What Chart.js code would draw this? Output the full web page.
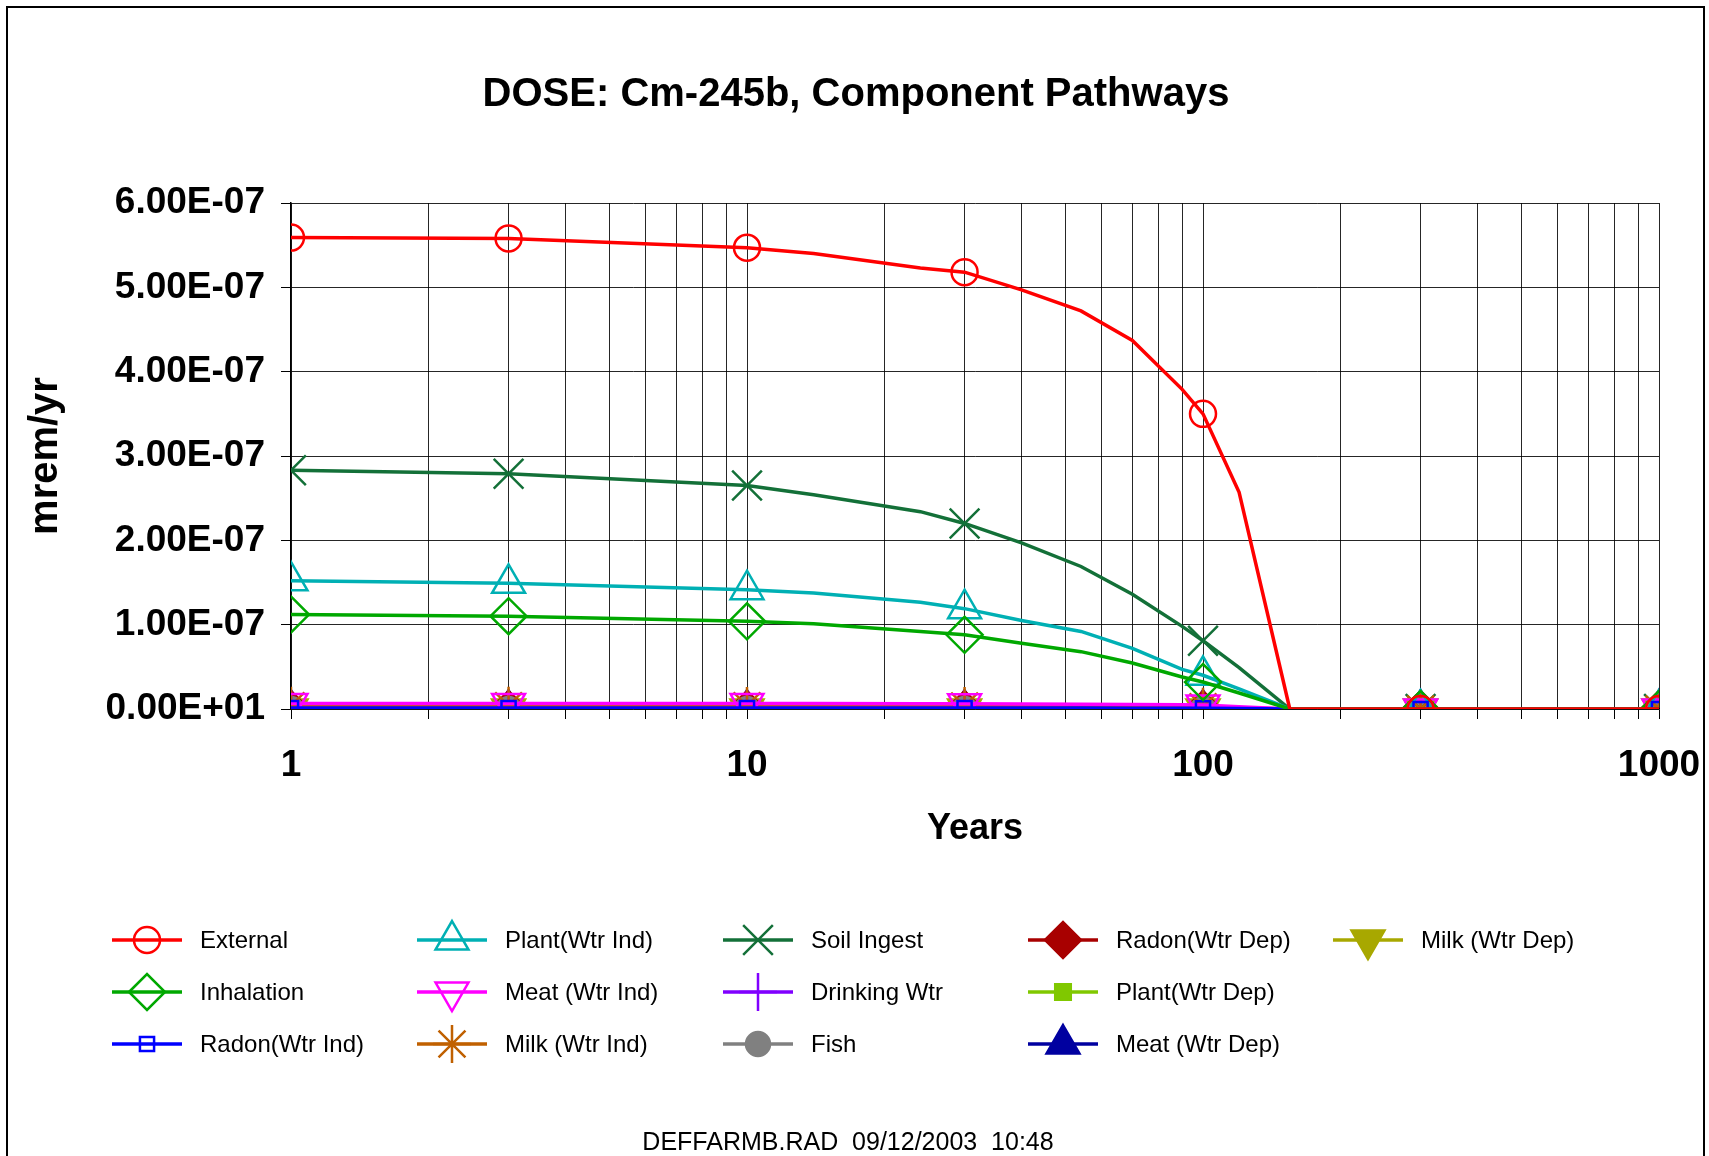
<!DOCTYPE html>
<html lang="en">
<head>
    <meta charset="UTF-8">
    <title>DOSE: Cm-245b, Component Pathways</title>
    <script src="https://cdn.jsdelivr.net/npm/chart.js"></script>
    <style>
        body { margin: 0; background: #fff; overflow: hidden; }
        canvas { display: block; }
    </style>
</head>
<body>
    <canvas id="chart" width="1709" height="1156"></canvas>

    <script>
        const years = [1, 3, 10, 14, 24, 30, 40, 54, 70, 90, 100, 120, 155, 300, 1000];
        const markerYears = [1, 3, 10, 30, 100, 300, 1000];

        // dose values, mrem/yr
        const external     = [5.59e-7, 5.58e-7, 5.47e-7, 5.40e-7, 5.23e-7, 5.18e-7, 4.97e-7, 4.72e-7, 4.37e-7, 3.79e-7, 3.50e-7, 2.57e-7, 0, 0, 0];
        const inhalation   = [1.12e-7, 1.10e-7, 1.04e-7, 1.01e-7, 0.92e-7, 0.88e-7, 0.78e-7, 0.68e-7, 0.545e-7, 0.38e-7, 0.32e-7, 0.19e-7, 0, 0, 0];
        const radonWtrInd  = [1.2e-9, 1.2e-9, 1.2e-9, 1.2e-9, 1.2e-9, 1.2e-9, 1.1e-9, 1.1e-9, 1.0e-9, 0.9e-9, 0.9e-9, 0.5e-9, 0, 0, 0];
        const plantWtrInd  = [1.52e-7, 1.49e-7, 1.415e-7, 1.375e-7, 1.265e-7, 1.19e-7, 1.05e-7, 0.92e-7, 0.72e-7, 0.47e-7, 0.40e-7, 0.24e-7, 0, 0, 0];
        const meatWtrInd   = [6.6e-9, 6.6e-9, 6.5e-9, 6.4e-9, 6.2e-9, 6.1e-9, 5.9e-9, 5.6e-9, 5.3e-9, 4.9e-9, 4.7e-9, 2.8e-9, 0, 0, 0];
        const milkWtrInd   = [3.8e-9, 3.8e-9, 3.7e-9, 3.7e-9, 3.6e-9, 3.5e-9, 3.4e-9, 3.2e-9, 3.0e-9, 2.8e-9, 2.7e-9, 1.6e-9, 0, 0, 0];
        const soilIngest   = [2.83e-7, 2.79e-7, 2.65e-7, 2.54e-7, 2.34e-7, 2.20e-7, 1.97e-7, 1.69e-7, 1.36e-7, 0.98e-7, 0.81e-7, 0.49e-7, 0, 0, 0];
        const drinkingWtr  = [0, 0, 0, 0, 0, 0, 0, 0, 0, 0, 0, 0, 0, 0, 0];
        const fish         = [0, 0, 0, 0, 0, 0, 0, 0, 0, 0, 0, 0, 0, 0, 0];
        const radonWtrDep  = [0, 0, 0, 0, 0, 0, 0, 0, 0, 0, 0, 0, 0, 0, 0];
        const plantWtrDep  = [0, 0, 0, 0, 0, 0, 0, 0, 0, 0, 0, 0, 0, 0, 0];
        const meatWtrDep   = [0, 0, 0, 0, 0, 0, 0, 0, 0, 0, 0, 0, 0, 0, 0];
        const milkWtrDep   = [0, 0, 0, 0, 0, 0, 0, 0, 0, 0, 0, 0, 0, 0, 0];

        const seriesNames = ['External', 'Inhalation', 'Radon(Wtr Ind)', 'Plant(Wtr Ind)', 'Meat (Wtr Ind)', 'Milk (Wtr Ind)',
                             'Soil Ingest', 'Drinking Wtr', 'Fish', 'Radon(Wtr Dep)', 'Plant(Wtr Dep)', 'Meat (Wtr Dep)', 'Milk (Wtr Dep)'];
        const seriesValues = [external, inhalation, radonWtrInd, plantWtrInd, meatWtrInd, milkWtrInd,
                              soilIngest, drinkingWtr, fish, radonWtrDep, plantWtrDep, meatWtrDep, milkWtrDep];

        const yTickLabels = ['0.00E+01', '1.00E-07', '2.00E-07', '3.00E-07', '4.00E-07', '5.00E-07', '6.00E-07'];
        const xTickLabels = ['1', '10', '100', '1000'];
        const xGridValues = [1, 2, 3, 4, 5, 6, 7, 8, 9, 10, 20, 30, 40, 50, 60, 70, 80, 90, 100,
                             200, 300, 400, 500, 600, 700, 800, 900, 1000];

        // look of each series: colour, point style, radius, rotation, filled
        const styles = [
            ['#FF0000', 'circle', 13, 0, false],
            ['#00A800', 'rectRot', 18, 0, false],
            ['#0000FF', 'rect', 10, 0, false],
            ['#00B0B4', 'triangle', 19, 0, false],
            ['#FF00FF', 'triangle', 19, 180, false],
            ['#C06000', 'star', 19, 0, false],
            ['#137038', 'crossRot', 21, 0, false],
            ['#8000FF', 'cross', 19, 0, false],
            ['#808080', 'circle', 12, 0, true],
            ['#A80000', 'rectRot', 18, 0, true],
            ['#80C800', 'rect', 11, 0, true],
            ['#0000A0', 'triangle', 19, 0, true],
            ['#A8A800', 'triangle', 19, 180, true]
        ];

        const FONT = '"Liberation Sans", Arial, sans-serif';

        const datasets = seriesNames.map((name, i) => {
            const [color, style, r, rot, filled] = styles[i];
            return {
                label: name,
                data: years.map((x, k) => ({ x: x, y: seriesValues[i][k] })),
                borderColor: color,
                borderWidth: 3.5,
                tension: 0,
                pointStyle: style,
                pointRotation: rot,
                pointRadius: years.map(x => markerYears.includes(x) ? r : 0),
                pointBorderWidth: 2.5,
                pointBorderColor: color,
                pointBackgroundColor: filled ? color : 'rgba(0,0,0,0)'
            };
        });

        function drawMarker(ctx, x, y, st) {
            const [color, style, r, rot, filled] = st;
            ctx.save();
            ctx.strokeStyle = color;
            ctx.fillStyle = filled ? color : 'rgba(0,0,0,0)';
            ctx.lineWidth = 2.5;
            if (Chart.helpers && Chart.helpers.drawPoint) {
                Chart.helpers.drawPoint(ctx, { pointStyle: style, radius: r, rotation: rot, borderWidth: 2.5 }, x, y);
            } else {
                ctx.beginPath();
                ctx.arc(x, y, r, 0, Math.PI * 2);
                ctx.fill();
                ctx.stroke();
            }
            ctx.restore();
        }

        const framePlugin = {
            id: 'frame',
            beforeDraw(chart) {
                const ctx = chart.ctx;
                ctx.save();
                ctx.fillStyle = '#fff';
                ctx.fillRect(0, 0, chart.width, chart.height);
                ctx.restore();
            },
            afterDraw(chart) {
                const ctx = chart.ctx;
                ctx.save();
                // outer border
                ctx.strokeStyle = '#000';
                ctx.lineWidth = 2;
                ctx.strokeRect(7, 7, 1697, 1300);

                // title
                ctx.fillStyle = '#000';
                ctx.textAlign = 'center';
                ctx.textBaseline = 'middle';
                ctx.font = 'bold 40px ' + FONT;
                ctx.fillText('DOSE: Cm-245b, Component Pathways', 856, 95);

                // legend, 5 columns x 3 rows, filled column by column
                const colX = [112, 417, 723, 1028, 1333];
                const rowY = [940, 992, 1044];
                ctx.font = '24px ' + FONT;
                ctx.textAlign = 'left';
                seriesNames.forEach((name, i) => {
                    const x0 = colX[Math.floor(i / 3)];
                    const y0 = rowY[i % 3];
                    ctx.strokeStyle = styles[i][0];
                    ctx.lineWidth = 3.5;
                    ctx.beginPath();
                    ctx.moveTo(x0, y0);
                    ctx.lineTo(x0 + 70, y0);
                    ctx.stroke();
                    drawMarker(ctx, x0 + 35, y0, styles[i]);
                    ctx.fillStyle = '#000';
                    ctx.fillText(name, x0 + 88, y0 + 1);
                });

                // footer
                ctx.font = '25px ' + FONT;
                ctx.textAlign = 'center';
                ctx.fillText('DEFFARMB.RAD  09/12/2003  10:48', 848, 1143);
                ctx.restore();
            }
        };

        const ctx = document.getElementById('chart').getContext('2d');
        const chart = new Chart(ctx, {
            type: 'line',
            data: { datasets: datasets },
            options: {
                responsive: false,
                animation: false,
                events: [],
                layout: { padding: { left: 0, top: 203, right: 50, bottom: 297 } },
                plugins: {
                    legend: { display: false },
                    title: { display: false },
                    tooltip: { enabled: false }
                },
                scales: {
                    x: {
                        type: 'logarithmic',
                        min: 1,
                        max: 1000,
                        afterBuildTicks: (scale) => {
                            scale.ticks = xGridValues.map(v => ({ value: v }));
                        },
                        afterFit: (scale) => {
                            scale.height = 150;
                            scale.paddingLeft = 0;
                            scale.paddingRight = 0;
                        },
                        grid: { color: 'rgba(0,0,0,0.85)', lineWidth: 1, tickLength: 10, tickColor: '#000' },
                        border: { color: '#000', width: 1.5 },
                        ticks: {
                            autoSkip: false,
                            maxRotation: 0,
                            padding: 25,
                            color: '#000',
                            font: { family: FONT, size: 37, weight: 'bold' },
                            callback: (v) => xTickLabels.includes(String(v)) ? String(v) : ''
                        },
                        title: {
                            display: true,
                            text: 'Years',
                            color: '#000',
                            font: { family: FONT, size: 36, weight: 'bold' },
                            padding: { top: 0, bottom: 8 }
                        }
                    },
                    y: {
                        min: 0,
                        max: 6e-7,
                        afterFit: (scale) => { scale.width = 291; },
                        grid: { color: 'rgba(0,0,0,0.85)', lineWidth: 1, tickLength: 10, tickColor: '#000' },
                        border: { color: '#000', width: 1.5 },
                        ticks: {
                            stepSize: 1e-7,
                            padding: 16,
                            color: '#000',
                            font: { family: FONT, size: 37, weight: 'bold' },
                            callback: (v, i) => yTickLabels[i]
                        },
                        title: {
                            display: true,
                            text: 'mrem/yr',
                            color: '#000',
                            font: { family: FONT, size: 40, weight: 'bold' },
                            padding: { top: 22, bottom: 0 }
                        }
                    }
                }
            },
            plugins: [framePlugin]
        });
    </script>
</body>
</html>
